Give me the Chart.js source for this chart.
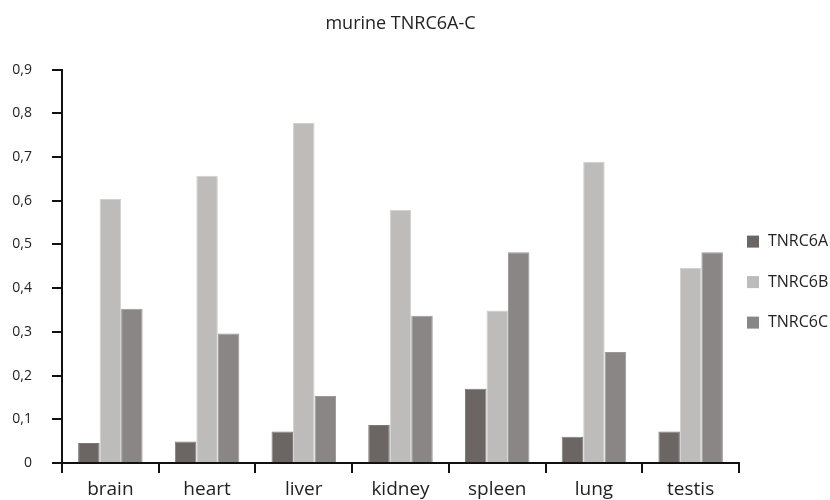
<!DOCTYPE html>
<html>
<head>
<meta charset="utf-8">
<script src="https://cdn.jsdelivr.net/npm/chart.js@4/dist/chart.umd.min.js"></script>
<style>
  html, body { margin: 0; padding: 0; background: #fff; }
  #wrap { width: 830px; height: 500px; }
</style>
</head>
<body>
<div id="wrap"><canvas id="chart"></canvas></div>
<script>
// tissues on the x axis
const tissues = ["brain", "heart", "liver", "kidney", "spleen", "lung", "testis"];
// relative expression
const tnrc6a = [0.046, 0.049, 0.072, 0.087, 0.170, 0.060, 0.072];
const tnrc6b = [0.604, 0.657, 0.778, 0.579, 0.349, 0.689, 0.446];
const tnrc6c = [0.353, 0.296, 0.153, 0.337, 0.482, 0.254, 0.482];
const yTicks = [0, 0.1, 0.2, 0.3, 0.4, 0.5, 0.6, 0.7, 0.8, 0.9];

Chart.defaults.font.family = "'Open Sans', 'DejaVu Sans', sans-serif";
Chart.defaults.color = '#222';

// legend drawn by hand so it can sit close to the plot like the original
const sideLegend = {
    id: 'sideLegend',
    afterDraw(chart) {
        const ctx = chart.ctx;
        const area = chart.chartArea;
        const x = area.right + 8;
        let y = area.top + 172;
        ctx.save();
        ctx.font = "16px 'Open Sans', 'DejaVu Sans', sans-serif";
        ctx.textBaseline = 'middle';
        ctx.textAlign = 'left';
        chart.data.datasets.forEach(ds => {
            ctx.fillStyle = ds.backgroundColor;
            ctx.fillRect(x, y - 6, 12, 12);
            ctx.fillStyle = '#222';
            ctx.fillText(ds.label, x + 21, y);
            y += 40.5;
        });
        ctx.restore();
    }
};

const ctx = document.getElementById('chart').getContext('2d');
new Chart(ctx, {
    type: 'bar',
    data: {
        labels: tissues,
        datasets: [
            { label: 'TNRC6A', data: tnrc6a, backgroundColor: '#6b6663', borderColor: '#7d7976', borderWidth: 1 },
            { label: 'TNRC6B', data: tnrc6b, backgroundColor: '#bdbcbb', borderColor: '#d2d1d0', borderWidth: 1 },
            { label: 'TNRC6C', data: tnrc6c, backgroundColor: '#8a8685', borderColor: '#9c9897', borderWidth: 1 }
        ]
    },
    options: {
        responsive: true,
        maintainAspectRatio: false,
        animation: false,
        layout: { padding: { left: 10, right: 91, top: 0, bottom: 0 } },
        datasets: {
            bar: { categoryPercentage: 0.667, barPercentage: 1.0 }
        },
        plugins: {
            title: {
                display: true,
                text: 'murine TNRC6A-C',
                fullSize: false,
                font: { size: 18, weight: 'normal' },
                color: '#222',
                padding: { top: 13, bottom: 35 }
            },
            legend: { display: false },
            tooltip: { enabled: false }
        },
        scales: {
            x: {
                offset: true,
                grid: { display: true, offset: true, drawOnChartArea: false, drawTicks: true, tickLength: 10, color: '#111', lineWidth: 2 },
                border: { display: true, color: '#111', width: 2 },
                ticks: { font: { size: 19 }, color: '#222', padding: 5 },
                afterFit: function(scale) { scale.height = 37; }
            },
            y: {
                min: 0,
                max: 0.9,
                afterBuildTicks: function(scale) {
                    scale.ticks = yTicks.map(v => ({ value: v }));
                },
                grid: { display: true, drawOnChartArea: false, drawTicks: true, tickLength: 10, color: '#111', lineWidth: 2 },
                border: { display: true, color: '#111', width: 2 },
                ticks: {
                    font: { size: 14 },
                    color: '#222',
                    padding: 20,
                    callback: function(value) {
                        return value === 0 ? '0' : value.toFixed(1).replace('.', ',');
                    }
                },
                afterFit: function(scale) { scale.width = 52; }
            }
        }
    },
    plugins: [sideLegend]
});
</script>
</body>
</html>
